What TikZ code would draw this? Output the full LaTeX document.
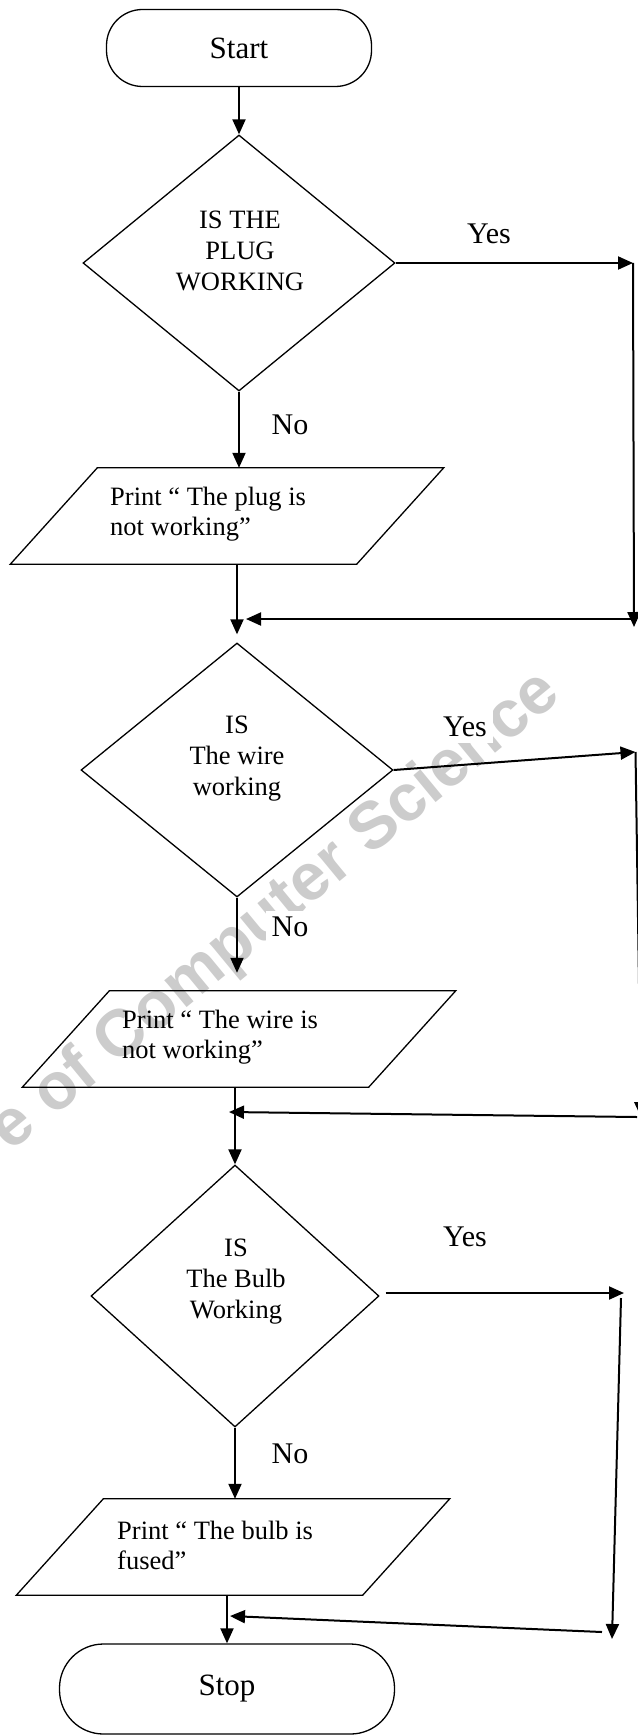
\documentclass[tikz,border=0pt]{standalone}
\usepackage{fontspec}
\setmainfont{Liberation Serif}
\newfontfamily\wmfont{Liberation Sans}
\usetikzlibrary{shapes.geometric,arrows.meta}
\newcommand\drawpara[1]{\draw[shapeline] ([xshift=43.5pt]#1.north west) -- ([xshift=43.5pt]#1.north east) -- ([xshift=-43.5pt]#1.south east) -- ([xshift=-43.5pt]#1.south west) -- cycle;}
\begin{document}
\begin{tikzpicture}[x=1pt,y=-1pt,
  shapeline/.style={draw=black,line width=1.3pt},
  term/.style={shapeline,inner sep=0pt,font=\fontsize{31}{36}\selectfont},
  dia/.style={shapeline,shape=diamond,inner sep=0pt},
  dtext/.style={align=center,inner sep=0pt,font=\fontsize{26.5}{31}\selectfont},
  ptext/.style={align=left,inner sep=0pt,anchor=west,font=\fontsize{26.5}{30}\selectfont},
  pbody/.style={draw=none,minimum width=346pt,minimum height=96pt,inner sep=0pt},
  lbl/.style={fill=white,inner sep=6pt,font=\fontsize{30}{36}\selectfont},
  arr/.style={line width=2pt,-{Triangle[length=15pt,width=13pt]}},
  wmark/.style={text=black!20,font=\wmfont\bfseries\fontsize{66}{72}\selectfont,rotate=39.5}
]
\fill[white] (0,0) rectangle (637,1736);
\useasboundingbox (0,0) rectangle (637,1736);

% watermark
\node[wmark] (wm) at (276,912) {e of Computer Science};

% terminals
\node[term,rounded corners=36pt,minimum width=265pt,minimum height=77pt] (start) at (239,48) {Start};
\node[term,rounded corners=44pt,minimum width=335pt,minimum height=90pt] (stop) at (227,1689) {Stop};

% decisions
\node[dia,minimum width=312pt,minimum height=256pt] (d1) at (239,263) {};
\node[dtext] (t1) at (240,251) {IS THE\\PLUG\\WORKING};
\node[dia,minimum width=312pt,minimum height=254pt] (d2) at (237,770) {};
\node[dtext] (t2) at (237,759) {IS\\The wire\\working};
\node[dia,minimum width=288pt,minimum height=262pt] (d3) at (235,1296) {};
\node[dtext] (t3) at (236,1282) {IS\\The Bulb\\Working};

% outputs
\node[pbody] (p1) at (227,516) {};
\drawpara{p1}
\node[ptext] (pt1) at (110,514) {Print “ The plug is\\not working”};
\node[pbody] (p2) at (239,1039) {};
\drawpara{p2}
\node[ptext] (pt2) at (122,1037) {Print “ The wire is\\not working”};
\node[pbody] (p3) at (233,1547) {};
\drawpara{p3}
\node[ptext] (pt3) at (117,1545) {Print “ The bulb is\\fused”};

% labels
\node[lbl] (y1) at (489,234) {Yes};
\node[lbl] (y2) at (465,727) {Yes};
\node[lbl] (y3) at (465,1237) {Yes};
\node[lbl] (n1) at (290,425) {No};
\node[lbl] (n2) at (290,927) {No};
\node[lbl] (n3) at (290,1454) {No};

% main flow
\draw[arr] (start.south) -- (start.south |- d1.north);
\draw[arr] (d1.south) -- (d1.south |- p1.north);
\draw[arr] (d2.north |- p1.south) -- ([yshift=8pt]d2.north);
\draw[arr] (d2.south) -- ([yshift=18pt]d2.south |- p2.north);
\draw[arr] (d3.north |- p2.south) -- (d3.north);
\draw[arr] (d3.south) -- (d3.south |- p3.north);
\draw[arr] (stop.north |- p3.south) -- (stop.north);

% yes loop 1
\coordinate (r1t) at (633,263);
\coordinate (r1b) at (634,627);
\coordinate (r1m) at (634,619);
\coordinate (m1) at (246,619);
\draw[arr] (d1.east) -- (r1t);
\draw[arr] (r1t) -- (r1b);
\draw[arr] (r1m) -- (m1);

% yes loop 2 (runs along the cropped right edge)
\coordinate (r2t) at (635.5,752);
\coordinate (r2b) at (641,1117);
\coordinate (r2m) at (637,1117);
\coordinate (m2) at (229,1112);
\draw[arr] (d2.east) -- (r2t);
\draw[arr] (r2t) -- (r2b);
\draw[arr] (r2m) -- (m2);

% yes loop 3
\coordinate (r3a) at (624,1293);
\coordinate (r3t) at (621,1298);
\coordinate (r3b) at (612,1639);
\coordinate (r3m) at (602,1632);
\coordinate (m3) at (230,1616);
\draw[arr] ([xshift=6pt,yshift=3pt]d3.east) -- (r3a);
\draw[arr] (r3t) -- (r3b);
\draw[arr] (r3m) -- (m3);
\end{tikzpicture}
\end{document}
